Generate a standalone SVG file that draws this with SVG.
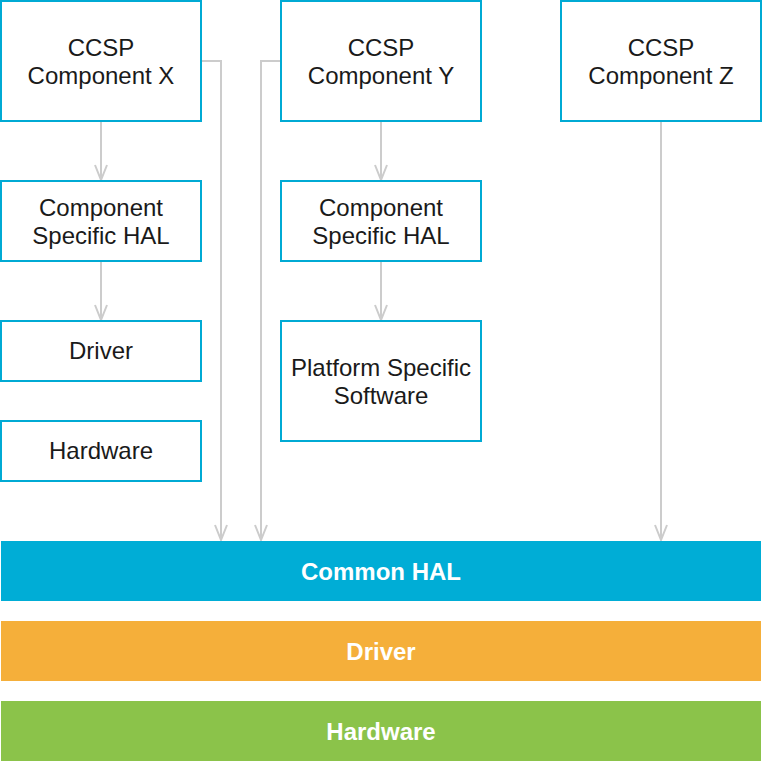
<svg xmlns="http://www.w3.org/2000/svg" width="762" height="762" viewBox="0 0 762 762">
<style>
.box{fill:#fff;stroke:#00AAD4;stroke-width:2}
.t{font-family:"Liberation Sans",Arial,sans-serif;font-size:24px;fill:#1a1a1a;text-anchor:middle}
.bt{font-family:"Liberation Sans",Arial,sans-serif;font-size:24px;font-weight:bold;fill:#fff;text-anchor:middle}
.c{fill:none;stroke:#CCCCCC;stroke-width:2;marker-end:url(#a)}
</style>
<defs>
<marker id="a" markerWidth="17" markerHeight="14" refX="16" refY="7" orient="auto" markerUnits="userSpaceOnUse" viewBox="0 0 17 14">
<path d="M1,1 L16,7 L1,13" fill="none" stroke="#CCCCCC" stroke-width="2"/>
</marker>
</defs>
<rect width="762" height="762" fill="#fff"/>
<g id="connectors">
<path class="c" d="M101,121 V180"/>
<path class="c" d="M101,261 V320"/>
<path class="c" d="M381,121 V180"/>
<path class="c" d="M381,261 V320"/>
<path class="c" d="M201,61 H221 V540"/>
<path class="c" d="M281,61 H261 V540"/>
<path class="c" d="M661,121 V540"/>
</g>
<g id="ccspX"><rect class="box" x="1" y="1" width="200" height="120"/><text class="t" x="101" y="56">CCSP</text><text class="t" x="101" y="84">Component X</text></g>
<g id="ccspY"><rect class="box" x="281" y="1" width="200" height="120"/><text class="t" x="381" y="56">CCSP</text><text class="t" x="381" y="84">Component Y</text></g>
<g id="ccspZ"><rect class="box" x="561" y="1" width="200" height="120"/><text class="t" x="661" y="56">CCSP</text><text class="t" x="661" y="84">Component Z</text></g>
<g id="halX"><rect class="box" x="1" y="181" width="200" height="80"/><text class="t" x="101" y="216">Component</text><text class="t" x="101" y="244">Specific HAL</text></g>
<g id="halY"><rect class="box" x="281" y="181" width="200" height="80"/><text class="t" x="381" y="216">Component</text><text class="t" x="381" y="244">Specific HAL</text></g>
<g id="driverX"><rect class="box" x="1" y="321" width="200" height="60"/><text class="t" x="101" y="359">Driver</text></g>
<g id="hardwareX"><rect class="box" x="1" y="421" width="200" height="60"/><text class="t" x="101" y="459">Hardware</text></g>
<g id="platformY"><rect class="box" x="281" y="321" width="200" height="120"/><text class="t" x="381" y="376">Platform Specific</text><text class="t" x="381" y="404">Software</text></g>
<g id="commonHAL"><rect x="1" y="541" width="760" height="60" fill="#00ADD6"/><text class="bt" x="381" y="580">Common HAL</text></g>
<g id="driver"><rect x="1" y="621" width="760" height="60" fill="#F5AF3A"/><text class="bt" x="381" y="660">Driver</text></g>
<g id="hardware"><rect x="1" y="701" width="760" height="60" fill="#8BC34A"/><text class="bt" x="381" y="740">Hardware</text></g>
</svg>
